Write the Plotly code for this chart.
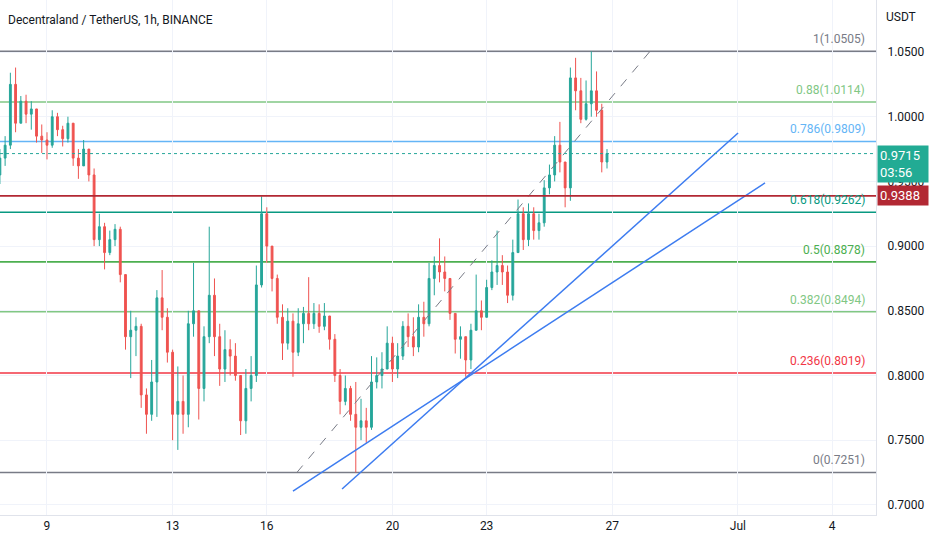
import pandas as pd
import plotly.graph_objects as go

# 4h candles, DCL/USDT, from 7 Jun 2022 12:00
first_open = 0.955
closes = [0.968, 0.978, 1.025, 0.995, 1.012, 1.002, 1.006, 0.985, 0.982, 0.978,
          1.000, 0.990, 0.983, 0.995, 0.968, 0.962, 0.975, 0.955, 0.905, 0.915,
          0.895, 0.905, 0.913, 0.878, 0.830, 0.835, 0.838, 0.785, 0.770, 0.795,
          0.860, 0.845, 0.818, 0.770, 0.780, 0.770, 0.840, 0.850, 0.790, 0.830,
          0.862, 0.830, 0.805, 0.820, 0.815, 0.800, 0.765, 0.790, 0.800, 0.870,
          0.925, 0.900, 0.875, 0.845, 0.825, 0.842, 0.818, 0.840, 0.848, 0.840,
          0.848, 0.838, 0.846, 0.828, 0.800, 0.780, 0.790, 0.770, 0.760, 0.765,
          0.760, 0.795, 0.800, 0.805, 0.825, 0.805, 0.815, 0.838, 0.830, 0.822,
          0.845, 0.840, 0.875, 0.885, 0.880, 0.875, 0.848, 0.828, 0.830, 0.812,
          0.835, 0.850, 0.845, 0.868, 0.880, 0.885, 0.880, 0.862, 0.895, 0.925,
          0.905, 0.925, 0.912, 0.918, 0.945, 0.955, 0.978, 0.965, 0.945, 1.030,
          1.020, 0.998, 1.010, 1.020, 1.005, 0.965, 0.9715]
highs = [0.975, 0.985, 1.034, 1.038, 1.016, 1.017, 1.012, 1.005, 0.994, 0.988,
         1.005, 1.003, 0.993, 1.000, 0.993, 0.975, 0.982, 0.968, 0.960, 0.925,
         0.918, 0.912, 0.917, 0.915, 0.878, 0.850, 0.845, 0.840, 0.790, 0.812,
         0.866, 0.8815, 0.852, 0.820, 0.807, 0.800, 0.850, 0.887, 0.850, 0.838,
         0.915, 0.875, 0.840, 0.835, 0.828, 0.825, 0.800, 0.805, 0.815, 0.885,
         0.9385, 0.930, 0.900, 0.878, 0.855, 0.852, 0.848, 0.852, 0.853, 0.876,
         0.856, 0.855, 0.856, 0.840, 0.832, 0.805, 0.800, 0.792, 0.795, 0.782,
         0.775, 0.815, 0.814, 0.818, 0.838, 0.830, 0.825, 0.842, 0.848, 0.845,
         0.855, 0.857, 0.887, 0.892, 0.906, 0.892, 0.875, 0.848, 0.838, 0.830,
         0.840, 0.878, 0.858, 0.874, 0.889, 0.912, 0.893, 0.885, 0.905, 0.936,
         0.930, 0.933, 0.930, 0.925, 0.951, 0.963, 0.985, 0.996, 0.965, 1.038,
         1.0455, 1.030, 1.028, 1.0505, 1.035, 1.010, 0.975]
lows = [0.948, 0.962, 0.975, 0.988, 0.995, 0.995, 0.990, 0.980, 0.972, 0.967,
        0.976, 0.985, 0.977, 0.980, 0.962, 0.952, 0.963, 0.950, 0.900, 0.900,
        0.882, 0.893, 0.900, 0.872, 0.820, 0.798, 0.815, 0.775, 0.755, 0.765,
        0.768, 0.835, 0.810, 0.750, 0.7425, 0.755, 0.760, 0.830, 0.766, 0.780,
        0.825, 0.815, 0.792, 0.795, 0.800, 0.796, 0.754, 0.755, 0.780, 0.795,
        0.868, 0.887, 0.865, 0.840, 0.812, 0.820, 0.799, 0.815, 0.825, 0.835,
        0.836, 0.833, 0.835, 0.820, 0.795, 0.770, 0.777, 0.765, 0.7251, 0.750,
        0.748, 0.758, 0.790, 0.790, 0.805, 0.795, 0.798, 0.812, 0.822, 0.815,
        0.818, 0.830, 0.838, 0.862, 0.872, 0.865, 0.843, 0.817, 0.813, 0.799,
        0.805, 0.838, 0.835, 0.848, 0.866, 0.870, 0.870, 0.856, 0.858, 0.895,
        0.897, 0.900, 0.905, 0.905, 0.915, 0.940, 0.950, 0.957, 0.930, 0.935,
        1.005, 0.995, 0.997, 1.000, 1.000, 0.957, 0.960]
opens = [first_open] + closes[:-1]
times = pd.date_range("2022-06-07 12:00", periods=len(closes), freq="4h")

fib_ratios = ["1", "0.88", "0.786", "0.618", "0.5", "0.382", "0.236", "0"]
fib_levels = [1.0505, 1.0114, 0.9809, 0.9262, 0.8878, 0.8494, 0.8019, 0.7251]
fib_colors = ["#787b86", "#81c784", "#64b5f6", "#089981", "#4caf50", "#81c784", "#f23645", "#787b86"]

trend_a_times = ["2022-06-16 20:00", "2022-07-01 20:45"]
trend_a_prices = [0.7107, 0.9488]
trend_b_times = ["2022-06-18 09:30", "2022-07-01 00:10"]
trend_b_prices = [0.7123, 0.9874]
fib_diag_times = ["2022-06-16 23:00", "2022-06-28 04:50"]
fib_diag_prices = [0.7251, 1.0505]

last_price = 0.9715
alert_price = 0.9388

tick_dates = ["2022-06-09", "2022-06-13", "2022-06-16", "2022-06-20", "2022-06-23",
              "2022-06-27", "2022-07-01", "2022-07-04"]
tick_text = ["9", "13", "16", "20", "23", "27", "Jul", "4"]
price_ticks = [0.70, 0.75, 0.80, 0.85, 0.90, 0.95, 1.00, 1.05]

up_col = "#26a69a"
down_col = "#ef5350"
grid_col = "#f0f3fa"
txt_col = "#131722"
font = "Roboto"

fig = go.Figure()
fig.add_trace(go.Candlestick(
    x=times, open=opens, high=highs, low=lows, close=closes,
    increasing=dict(line=dict(color=up_col, width=1), fillcolor=up_col),
    decreasing=dict(line=dict(color=down_col, width=1), fillcolor=down_col),
    showlegend=False, hoverinfo="skip",
))
fig.add_trace(go.Scatter(x=fib_diag_times, y=fib_diag_prices, mode="lines",
                         line=dict(color="#787b86", width=1, dash="dash"),
                         showlegend=False, hoverinfo="skip"))
for tx, ty in [(trend_a_times, trend_a_prices), (trend_b_times, trend_b_prices)]:
    fig.add_trace(go.Scatter(x=tx, y=ty, mode="lines",
                             line=dict(color="#3d7cf0", width=1.5),
                             showlegend=False, hoverinfo="skip"))

# fib levels + labels
for r, lv, c in zip(fib_ratios, fib_levels, fib_colors):
    fig.add_shape(type="line", xref="paper", x0=0, x1=1, yref="y", y0=lv, y1=lv,
                  line=dict(color=c, width=1.6), layer="below")
    fig.add_annotation(xref="paper", x=867 / 876, xanchor="right", yref="y", y=lv,
                       yanchor="bottom", yshift=3, text=f"{r}({lv:.4f})", showarrow=False,
                       font=dict(family=font, size=12, color=c))

fig.add_shape(type="line", xref="paper", x0=0, x1=1, yref="y", y0=alert_price, y1=alert_price,
              line=dict(color="#b22833", width=1.6))
fig.add_shape(type="line", xref="paper", x0=0, x1=1, yref="y", y0=last_price, y1=last_price,
              line=dict(color=up_col, width=1, dash="dot"))

# price tags on the axis
fig.add_annotation(xref="paper", x=1.0, xanchor="left", xshift=1, yref="y", y=last_price,
                   yanchor="middle", yshift=-10, text=f"{last_price:.4f}<br>03:56",
                   showarrow=False, align="left", width=46, bgcolor="#22ab94",
                   borderpad=2, font=dict(family=font, size=13, color="white"))
fig.add_annotation(xref="paper", x=1.0, xanchor="left", xshift=1, yref="y", y=alert_price,
                   yanchor="middle", text=f"{alert_price:.4f}",
                   showarrow=False, align="left", width=46, bgcolor="#b22833",
                   borderpad=2, font=dict(family=font, size=13, color="white"))

fig.add_annotation(xref="paper", x=6 / 876, xanchor="left", yref="paper", y=1 - 20 / 515,
                   yanchor="middle", text="Decentraland / TetherUS, 1h, BINANCE",
                   showarrow=False, font=dict(family=font, size=12, color=txt_col))
fig.add_annotation(xref="paper", x=884 / 876, xanchor="left", yref="paper", y=1 - 17 / 515,
                   yanchor="middle", text="USDT", showarrow=False,
                   font=dict(family=font, size=12, color=txt_col))

fig.update_layout(
    width=932, height=550,
    margin=dict(l=0, r=56, t=0, b=35),
    paper_bgcolor="white", plot_bgcolor="white",
    font=dict(family=font, size=12, color=txt_col),
    boxgap=0.5,
    xaxis=dict(
        type="date", range=["2022-06-07 12:05", "2022-07-05 09:35"],
        tickvals=tick_dates, ticktext=tick_text, showgrid=True, gridcolor=grid_col,
        showline=True, linecolor="#e0e3eb", linewidth=1, ticks="",
        rangeslider=dict(visible=False), zeroline=False,
        tickfont=dict(family=font, size=12, color=txt_col),
    ),
    yaxis=dict(
        side="right", range=[0.6922, 1.0902], tickvals=price_ticks,
        ticktext=[f"{p:.4f}" for p in price_ticks], showgrid=True, gridcolor=grid_col,
        showline=True, linecolor="#e0e3eb", linewidth=1, ticks="", zeroline=False,
        ticklabelstandoff=8, tickfont=dict(family=font, size=12, color=txt_col),
    ),
    hovermode=False,
)

# drop the default page margin so the 932x550 figure fills the window
fig.write_html("out.html", config={"displayModeBar": False},
               post_script="document.body.style.margin='0';")
